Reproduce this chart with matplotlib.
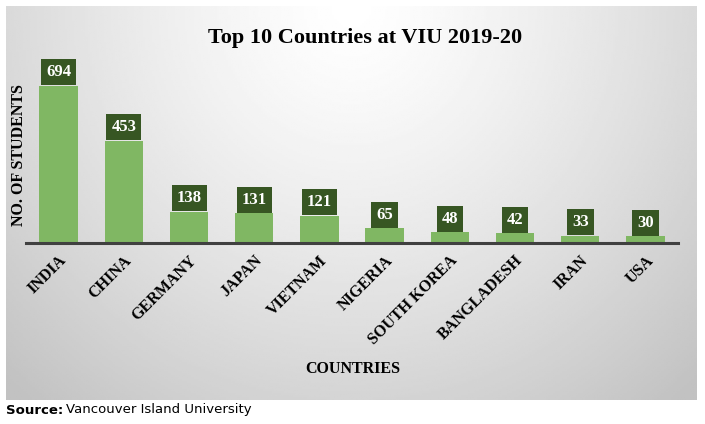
import numpy as np
import matplotlib.pyplot as plt

countries = ["INDIA", "CHINA", "GERMANY", "JAPAN", "VIETNAM", "NIGERIA",
             "SOUTH KOREA", "BANGLADESH", "IRAN", "USA"]
students = [694, 453, 138, 131, 121, 65, 48, 42, 33, 30]

W, H = 705, 424
fig = plt.figure(figsize=(W / 100, H / 100), dpi=100)

# gradient background panel
bg = fig.add_axes([6 / W, 1 - 400 / H, 691 / W, 394 / H])
gx, gy = np.meshgrid(np.linspace(-1, 1, 300), np.linspace(0, 1, 200))
r = np.sqrt((gx * 1.0) ** 2 + (gy * 1.1) ** 2)
shade = 1.0 - 0.24 * np.clip(r / 1.45, 0, 1) ** 1.3
bg.imshow(shade, cmap="gray", vmin=0, vmax=1, aspect="auto",
          extent=[0, 1, 0, 1], origin="upper")
bg.set_xlim(0, 1)
bg.set_ylim(0, 1)
bg.axis("off")

ax = fig.add_axes([26 / W, 1 - 243 / H, 652 / W, 183 / H])
ax.patch.set_alpha(0)
x = np.arange(len(countries))
ax.bar(x, students, width=0.59, color="#80b763", zorder=2)
ax.set_xlim(-0.5, len(countries) - 0.5)
ax.set_ylim(0, 183 / (157 / 694))

for s in ["top", "right", "left"]:
    ax.spines[s].set_visible(False)
ax.spines["bottom"].set_color("#404040")
ax.spines["bottom"].set_linewidth(2.2)
ax.set_yticks([])
ax.tick_params(axis="x", length=0, pad=7)
ax.set_xticks(x)
ax.set_xticklabels(countries, rotation=45, ha="right", rotation_mode="anchor",
                   family="Liberation Serif", fontweight="bold", fontsize=11.5)

for xi, v in zip(x, students):
    ax.annotate(str(v), (xi, v), xytext=(0, 4), textcoords="offset points",
                ha="center", va="bottom", color="white", fontweight="bold",
                family="Liberation Serif", fontsize=12,
                bbox=dict(boxstyle="square,pad=0.3", fc="#375623", ec="none"))

fig.text(365 / W, 1 - 38 / H, "Top 10 Countries at VIU 2019-20", ha="center",
         va="center", family="Liberation Serif", fontweight="bold", fontsize=16)
fig.text(19 / W, 1 - 155 / H, "NO. OF STUDENTS", rotation=90, ha="center",
         va="center", family="Liberation Serif", fontweight="bold", fontsize=11.5)
fig.text(353 / W, 1 - 369 / H, "COUNTRIES", ha="center", va="center",
         family="Liberation Serif", fontweight="bold", fontsize=11.5)
fig.text(6 / W, 1 - 410 / H, "Source:", ha="left", va="center",
         family="DejaVu Sans", fontweight="bold", fontsize=9.5)
fig.text(66 / W, 1 - 410 / H, "Vancouver Island University", ha="left",
         va="center", family="DejaVu Sans", fontsize=9.5)

fig.savefig("out.png", dpi=100, facecolor="white")
